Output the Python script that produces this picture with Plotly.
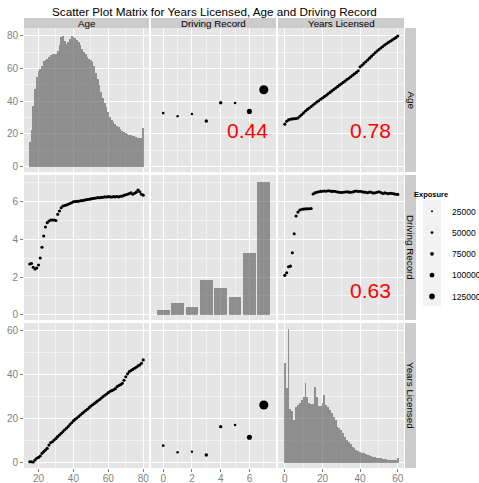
import plotly.graph_objects as go

# ---------------- data ----------------
ages = list(range(15, 81))
age_hist = [14.9, 22.4, 37.0, 47.5, 54.5, 58.4, 59.6, 61.3, 64.8, 65.2, 66.0, 67.2, 68.4, 69.0, 69.0,
            69.0, 70.4, 74.2, 79.0, 79.6, 76.8, 75.2, 75.9, 78.0, 79.6, 79.4, 78.5, 77.4, 76.3, 74.2,
            72.1, 70.0, 68.8, 66.9, 65.9, 65.3, 63.8, 61.4, 57.2, 53.5, 49.8, 45.6, 42.0, 39.0, 36.5,
            33.4, 30.6, 28.8, 27.1, 26.0, 24.8, 24.0, 23.0, 21.9, 21.1, 20.4, 19.8, 19.3, 19.2, 18.8,
            18.6, 18.1, 17.8, 17.6, 17.4, 23.4]
dr_by_age = [2.69, 2.72, 2.52, 2.43, 2.48, 2.64, 3.01, 3.58, 4.18, 4.66, 4.89, 4.98, 5.03, 5.03, 5.03,
             5.00, 5.33, 5.51, 5.68, 5.77, 5.80, 5.83, 5.87, 5.91, 5.95, 6.00, 6.01, 6.02, 6.03, 6.05,
             6.06, 6.08, 6.10, 6.12, 6.13, 6.15, 6.17, 6.18, 6.20, 6.22, 6.21, 6.23, 6.24, 6.26, 6.25,
             6.27, 6.26, 6.25, 6.27, 6.26, 6.28, 6.26, 6.29, 6.30, 6.34, 6.37, 6.40, 6.44, 6.47, 6.40,
             6.45, 6.51, 6.62, 6.53, 6.40, 6.35]
yl_by_age = [0.45, 0.45, 0.3, 1.2, 2.0, 2.4, 3.0, 4.2, 5.0, 5.7, 6.5, 8.0, 9.1, 9.5, 10.3, 11.0, 11.8,
             12.5, 13.3, 14.1, 14.9, 15.6, 16.4, 17.3, 18.1, 18.9, 19.6, 20.2, 20.9, 21.6, 22.3, 22.9,
             23.6, 24.2, 24.9, 25.6, 26.2, 26.8, 27.4, 28.0, 28.6, 29.3, 29.9, 30.5, 31.1, 31.7, 32.3,
             32.6, 33.0, 33.5, 34.4, 34.9, 35.3, 35.9, 37.3, 38.9, 40.2, 41.2, 41.7, 42.2, 42.7, 43.2,
             43.8, 44.2, 45.0, 46.5]

years = list(range(0, 61))
years_hist = [45.2, 33.6, 60.3, 24.1, 23.5, 19.3, 25.0, 25.9, 26.8, 28.4, 29.6, 36.2, 29.6, 26.8, 26.5,
              26.5, 34.1, 29.6, 25.6, 25.6, 26.8, 30.6, 26.1, 25.0, 23.8, 22.3, 20.5, 19.3, 16.3, 15.5,
              14.8, 13.3, 11.8, 10.3, 9.5, 8.4, 7.2, 6.5, 5.7, 5.3, 4.8, 4.5, 4.2, 3.9, 3.5, 3.3, 3.0,
              2.7, 2.6, 2.3, 2.1, 2.1, 1.8, 1.7, 1.5, 1.2, 1.1, 1.1, 1.1, 1.2, 2.1]
age_by_years = [26.0, 27.8, 28.6, 29.0, 29.2, 29.3, 29.4, 29.8, 30.8, 31.9, 32.9, 34.0, 35.0, 35.9, 36.8,
                37.7, 38.6, 39.5, 40.3, 41.2, 42.0, 42.8, 43.6, 44.5, 45.4, 46.3, 47.2, 48.0, 48.9, 49.8,
                50.6, 51.5, 52.3, 53.2, 54.0, 54.9, 55.8, 56.7, 57.6, 58.6, 61.0, 62.0, 63.1, 64.1, 65.2,
                66.3, 67.4, 68.5, 69.6, 70.7, 71.6, 72.5, 73.4, 74.3, 75.1, 75.9, 76.6, 77.4, 78.1, 78.8,
                79.8]
dr_by_years = [2.09, 2.23, 2.55, 2.58, 3.29, 4.30, 5.24, 5.45, 5.56, 5.60, 5.61, 5.62, 5.63, 5.63, 5.64,
               6.41, 6.47, 6.50, 6.53, 6.55, 6.56, 6.57, 6.56, 6.58, 6.57, 6.55, 6.56, 6.54, 6.52, 6.50,
               6.49, 6.50, 6.52, 6.53, 6.51, 6.50, 6.52, 6.55, 6.57, 6.54, 6.56, 6.53, 6.51, 6.50, 6.48,
               6.52, 6.50, 6.46, 6.48, 6.50, 6.53, 6.49, 6.44, 6.47, 6.45, 6.43, 6.45, 6.44, 6.42, 6.40,
               6.39]

records = list(range(0, 8))
record_hist = [0.23, 0.60, 0.39, 1.87, 1.43, 0.96, 3.28, 7.03]
age_by_record = [32.8, 30.9, 32.2, 27.9, 39.1, 38.9, 33.8, 47.0]
yl_by_record = [7.7, 4.7, 5.0, 3.5, 16.3, 17.1, 11.5, 26.1]
exposure_by_record = [48000, 40000, 40000, 65000, 66000, 42000, 110000, 215000]

legend_exposure = [25000, 50000, 75000, 100000, 125000]

variables = ["Age", "Driving Record", "Years Licensed"]
corr_age_dr = "0.44"
corr_age_yl = "0.78"
corr_dr_yl = "0.63"

# ---------------- styling helpers ----------------
W, H = 479, 483
FONT = "Liberation Sans, Arial, sans-serif"
PANEL_BG = "#E5E5E5"
BAR_COLOR = "rgba(89,89,89,0.62)"


def px_x(p):
    return p / W


def px_y(p):
    return 1 - p / H


def size_of(e):
    return 0.9 + 0.038 * e / 1000.0


col_px = [(24, 149), (151, 276), (278, 404)]
row_px = [(28, 172), (175, 320), (323, 468)]
col_dom = [[px_x(a), px_x(b)] for a, b in col_px]
row_dom = [[px_y(b), px_y(a)] for a, b in row_px]

col_range = [[11.7, 83.3], [-0.85, 7.85], [-3.6, 63.3]]
row_range = [[-3.2, 84.7], [-0.28, 7.42], [-2.4, 63.2]]
col_major = [[20, 40, 60, 80], [0, 2, 4, 6], [0, 20, 40, 60]]
col_minor = [[30, 50, 70], [1, 3, 5, 7], [10, 30, 50]]
row_major = [[0, 20, 40, 60, 80], [0, 2, 4, 6], [0, 20, 40, 60]]
row_minor = [[10, 30, 50, 70], [1, 3, 5, 7], [10, 30, 50]]


def ax_id(r, c):
    i = r * 3 + c + 1
    return ("x" if i == 1 else f"x{i}"), ("y" if i == 1 else f"y{i}")


fig = go.Figure()

dot = dict(color="black", size=3.1, opacity=1, line=dict(width=0))
bubble = dict(color="black", size=[size_of(e) for e in exposure_by_record], opacity=1, line=dict(width=0))

# row 1: Age
xa, ya = ax_id(0, 0)
fig.add_trace(go.Bar(x=ages, y=age_hist, width=1, marker=dict(color=BAR_COLOR, line=dict(width=0)),
                     xaxis=xa, yaxis=ya, showlegend=False))
xa, ya = ax_id(0, 1)
fig.add_trace(go.Scatter(x=records, y=age_by_record, mode="markers", marker=bubble,
                         xaxis=xa, yaxis=ya, showlegend=False))
xa, ya = ax_id(0, 2)
fig.add_trace(go.Scatter(x=years, y=age_by_years, mode="markers", marker=dot, xaxis=xa, yaxis=ya, showlegend=False))

# row 2: Driving Record
xa, ya = ax_id(1, 0)
fig.add_trace(go.Scatter(x=ages, y=dr_by_age, mode="markers", marker=dot, xaxis=xa, yaxis=ya, showlegend=False))
xa, ya = ax_id(1, 1)
fig.add_trace(go.Bar(x=records, y=record_hist, width=0.88, marker=dict(color=BAR_COLOR, line=dict(width=0)),
                     xaxis=xa, yaxis=ya, showlegend=False))
xa, ya = ax_id(1, 2)
fig.add_trace(go.Scatter(x=years, y=dr_by_years, mode="markers", marker=dot, xaxis=xa, yaxis=ya, showlegend=False))

# row 3: Years Licensed
xa, ya = ax_id(2, 0)
fig.add_trace(go.Scatter(x=ages, y=yl_by_age, mode="markers", marker=dot, xaxis=xa, yaxis=ya, showlegend=False))
xa, ya = ax_id(2, 1)
fig.add_trace(go.Scatter(x=records, y=yl_by_record, mode="markers", marker=bubble,
                         xaxis=xa, yaxis=ya, showlegend=False))
xa, ya = ax_id(2, 2)
fig.add_trace(go.Bar(x=years, y=years_hist, width=1, marker=dict(color=BAR_COLOR, line=dict(width=0)),
                     xaxis=xa, yaxis=ya, showlegend=False))

# legend entries for the size scale
for e in legend_exposure:
    fig.add_trace(go.Scatter(x=[None], y=[None], mode="markers", name=str(e), legendgroup=str(e),
                             marker=dict(color="black", size=size_of(e), opacity=1, line=dict(width=0)),
                             xaxis="x", yaxis="y", showlegend=True))

layout = dict(
    width=W, height=H, margin=dict(l=0, r=0, t=0, b=0, pad=0, autoexpand=False),
    paper_bgcolor="white", plot_bgcolor=PANEL_BG,
    font=dict(family=FONT, color="#7F7F7F", size=10),
    bargap=0,
    showlegend=True,
    legend=dict(x=px_x(412), y=px_y(187), xanchor="left", yanchor="top",
                bgcolor="rgba(0,0,0,0)", traceorder="grouped", tracegroupgap=2.3,
                itemsizing="trace",
                font=dict(family=FONT, size=8.5, color="black"),
                title=dict(text="<b>Exposure</b>", font=dict(family=FONT, size=7.5, color="black"))),
)

for r in range(3):
    for c in range(3):
        i = r * 3 + c + 1
        xk = "xaxis" if i == 1 else f"xaxis{i}"
        yk = "yaxis" if i == 1 else f"yaxis{i}"
        xa, ya = ax_id(r, c)
        bottom = r == 2
        left = c == 0
        layout[xk] = dict(domain=col_dom[c], anchor=ya, range=col_range[c], tickmode="array",
                          tickvals=col_major[c], showticklabels=bottom, ticks="outside" if bottom else "",
                          ticklen=3, tickcolor="#7F7F7F", showgrid=True, gridcolor="white", gridwidth=1,
                          zeroline=False, showline=False, fixedrange=True, automargin=False,
                          ticklabelstandoff=-2,
                          tickfont=dict(size=10, color="#7F7F7F"),
                          minor=dict(tickvals=col_minor[c], showgrid=True, gridcolor="#F2F2F2",
                                     gridwidth=0.5, ticks=""))
        layout[yk] = dict(domain=row_dom[r], anchor=xa, range=row_range[r], tickmode="array",
                          tickvals=row_major[r], showticklabels=left, ticks="outside" if left else "",
                          ticklen=3, tickcolor="#7F7F7F", showgrid=True, gridcolor="white", gridwidth=1,
                          zeroline=False, showline=False, fixedrange=True, automargin=False,
                          tickfont=dict(size=10, color="#7F7F7F"),
                          minor=dict(tickvals=row_minor[r], showgrid=True, gridcolor="#F2F2F2",
                                     gridwidth=0.5, ticks=""))

fig.update_layout(**layout)

shapes = []
annotations = []
# top strips
for c, name in enumerate(variables):
    a, b = col_px[c]
    shapes.append(dict(type="rect", xref="paper", yref="paper", x0=px_x(a), x1=px_x(b),
                       y0=px_y(28), y1=px_y(18), fillcolor="#CCCCCC", line=dict(width=0), layer="below"))
    annotations.append(dict(text=name, xref="paper", yref="paper", x=px_x((a + b) / 2), y=px_y(23),
                            showarrow=False, xanchor="center", yanchor="middle",
                            font=dict(family=FONT, size=9.8, color="black")))
# right strips
for r, name in enumerate(variables):
    a, b = row_px[r]
    shapes.append(dict(type="rect", xref="paper", yref="paper", x0=px_x(405), x1=px_x(416),
                       y0=px_y(b), y1=px_y(a), fillcolor="#CCCCCC", line=dict(width=0), layer="below"))
    annotations.append(dict(text=name, xref="paper", yref="paper", x=px_x(410.5), y=px_y((a + b) / 2),
                            showarrow=False, xanchor="center", yanchor="middle", textangle=90,
                            font=dict(family=FONT, size=9.8, color="black")))
# legend key background
shapes.append(dict(type="rect", xref="paper", yref="paper", x0=px_x(423), x1=px_x(441),
                   y0=px_y(306), y1=px_y(200), fillcolor="#F2F2F2", line=dict(width=0), layer="below"))

# title
annotations.append(dict(text="Scatter Plot Matrix for Years Licensed, Age and Driving Record",
                        xref="paper", yref="paper", x=px_x(214), y=px_y(11.5), showarrow=False,
                        xanchor="center", yanchor="middle", font=dict(family=FONT, size=11.7, color="black")))

# correlations
red = dict(family=FONT, size=21, color="red")
xa, ya = ax_id(0, 1)
annotations.append(dict(text=corr_age_dr, xref=xa, yref=ya, x=5.9, y=22.0, showarrow=False, font=red))
xa, ya = ax_id(0, 2)
annotations.append(dict(text=corr_age_yl, xref=xa, yref=ya, x=45.4, y=22.0, showarrow=False, font=red))
xa, ya = ax_id(1, 2)
annotations.append(dict(text=corr_dr_yl, xref=xa, yref=ya, x=45.4, y=1.27, showarrow=False, font=red))

fig.update_layout(shapes=shapes, annotations=annotations)
fig.write_html("out.html", config={"displayModeBar": False},
               post_script="document.body.style.margin='0';document.body.style.overflow='hidden';")
